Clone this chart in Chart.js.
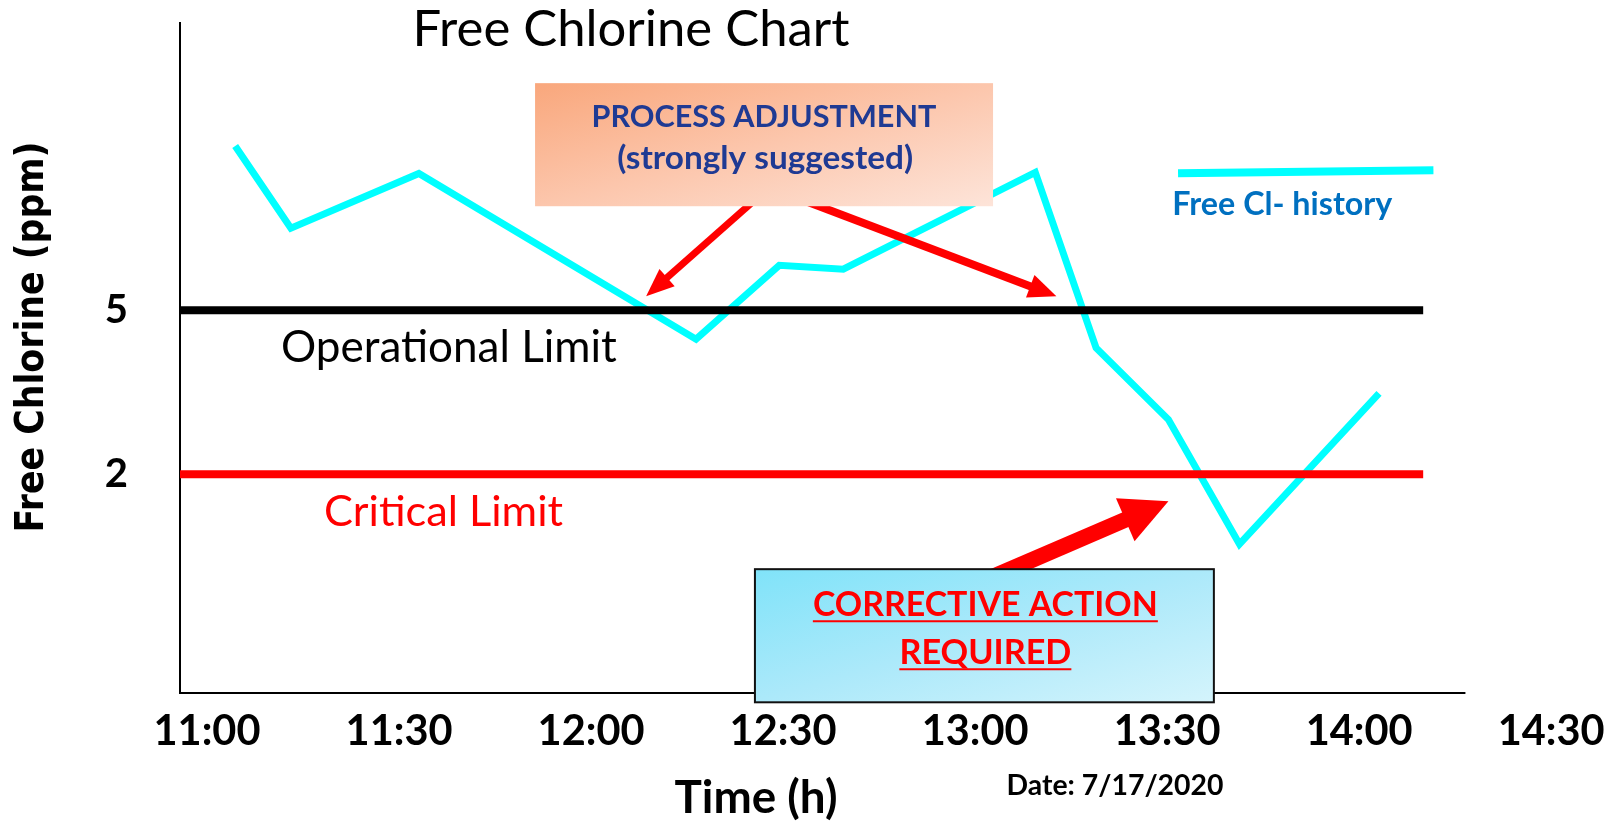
<!DOCTYPE html>
<html><head><meta charset="utf-8">
<script src="https://cdn.jsdelivr.net/npm/chart.js@4.4.1/dist/chart.umd.min.js"></script>
<style>html,body{margin:0;padding:0;background:#fff;overflow:hidden}canvas{display:block}</style>
</head><body>
<canvas id="c" width="1614" height="822"></canvas>
<script>
// ---- data (minutes after 11:00, ppm) ----
const timeMinutes   = [4.4, 13.1, 33.1, 76.4, 89.4, 99.4, 129.4, 138.9, 150.2, 161.3, 183.1];
const freeChlorine  = [8.0, 6.5, 7.5, 4.47, 5.82, 5.75, 7.52, 4.31, 3.0, 0.72, 3.48];
const operationalLimit = 5;
const criticalLimit = 2;
const limitSpan = [-4.22, 190];
const xTickValues = [0, 30, 60, 90, 120, 150, 180, 210];
const xTickLabels = ['11:00', '11:30', '12:00', '12:30', '13:00', '13:30', '14:00', '14:30'];
const yTickValues = [2, 5];
const yTickLabels = ['2', '5'];
const xRange = [-4.22, 212];
const yRange = [-2, 10.25];
const xAxisEnd = 196.6;

// annotations in data coordinates (minutes, ppm)
const arrows = [
  {from: [86.4, 7.10], to: [68.6, 5.256], w: 7, hl: 28, hw: 23},
  {from: [91.1, 7.10], to: [132.7, 5.256], w: 8, hl: 28, hw: 24},
  {from: [122.3, 0.10], to: [150.2, 1.507], w: 16, hl: 47, hw: 47}
];

const L = 'Lato, "Open Sans", sans-serif';

function fitSize(ctx, s, weight, family, width) {
  ctx.font = weight + ' 100px ' + family;
  return 100 * width / ctx.measureText(s).width;
}
function txt(ctx, s, x, y, o) {
  const weight = o.weight || 'normal', family = o.family || L;
  const fs = o.width ? fitSize(ctx, s, weight, family, o.width) : o.size;
  ctx.font = weight + ' ' + fs + 'px ' + family;
  ctx.fillStyle = o.color || '#000';
  ctx.textAlign = o.align || 'center';
  ctx.textBaseline = o.baseline || 'alphabetic';
  ctx.fillText(s, x, y);
  return fs;
}
function drawArrow(ctx, x1, y1, x2, y2, w, hl, hw, color) {
  const dx = x2 - x1, dy = y2 - y1, len = Math.hypot(dx, dy);
  const ux = dx / len, uy = dy / len, px = -uy, py = ux;
  const bx = x2 - ux * hl, by = y2 - uy * hl;
  ctx.save();
  ctx.strokeStyle = color; ctx.fillStyle = color; ctx.lineWidth = w; ctx.lineCap = 'butt';
  ctx.beginPath(); ctx.moveTo(x1, y1); ctx.lineTo(bx + ux * 2, by + uy * 2); ctx.stroke();
  ctx.beginPath(); ctx.moveTo(x2, y2);
  ctx.lineTo(bx + px * hw / 2, by + py * hw / 2);
  ctx.lineTo(bx - px * hw / 2, by - py * hw / 2);
  ctx.closePath(); ctx.fill();
  ctx.restore();
}
// gradient scaled with the shape (iso-lines parallel to the anti-diagonal)
function gradBox(ctx, x0, y0, x1, y1, stops) {
  ctx.save();
  ctx.translate(x0, y0); ctx.scale(x1 - x0, y1 - y0);
  const g = ctx.createLinearGradient(0, 0, 1, 1);
  stops.forEach(([o, c]) => g.addColorStop(o, c));
  ctx.fillStyle = g; ctx.fillRect(0, 0, 1, 1);
  ctx.restore();
}

const decor = {
  id: 'decor',
  beforeDatasetsDraw(chart) {
    const ctx = chart.ctx, xs = chart.scales.x, ys = chart.scales.y;
    ctx.save();
    ctx.strokeStyle = '#000'; ctx.lineWidth = 2;
    ctx.beginPath();
    const yb = ys.getPixelForValue(yRange[0]);
    ctx.moveTo(chart.chartArea.left - 1, yb); ctx.lineTo(xs.getPixelForValue(xAxisEnd), yb);
    ctx.stroke();
    ctx.restore();
  },
  afterDatasetsDraw(chart) {
    const ctx = chart.ctx, xs = chart.scales.x, ys = chart.scales.y;
    const X = v => xs.getPixelForValue(v), Y = v => ys.getPixelForValue(v);
    ctx.save();
    // arrows
    arrows.forEach(a => drawArrow(ctx, X(a.from[0]), Y(a.from[1]), X(a.to[0]), Y(a.to[1]), a.w, a.hl, a.hw, '#ff0000'));
    // orange box
    let x0 = X(51.25), x1 = X(122.8), y0 = Y(9.15), y1 = Y(6.90);
    gradBox(ctx, x0, y0, x1, y1, [[0, '#f9a77c'], [0.5, '#fcc6ac'], [1, '#fde4d9']]);
    txt(ctx, 'PROCESS ADJUSTMENT', X(87.0), Y(8.346), {weight: 'bold', width: 345, color: '#1f3a93'});
    txt(ctx, '(strongly suggested)', X(87.2), Y(7.578), {weight: 'bold', width: 296, color: '#1f3a93'});
    // cyan box
    x0 = X(85.6); x1 = X(157.3); y0 = Y(0.264); y1 = Y(-2.17);
    gradBox(ctx, x0, y0, x1, y1, [[0, '#80e3f9'], [0.5, '#ace9fa'], [1, '#d4f4fc']]);
    ctx.strokeStyle = '#111'; ctx.lineWidth = 2; ctx.strokeRect(x0, y0, x1 - x0, y1 - y0);
    const cx = X(121.6);
    [['CORRECTIVE ACTION', -0.595, 345], ['REQUIRED', -1.473, 172]].forEach(([s, v, w]) => {
      txt(ctx, s, cx, Y(v), {weight: 'bold', width: w, color: '#ff0000'});
      ctx.strokeStyle = '#ff0000'; ctx.lineWidth = 2;
      ctx.beginPath(); ctx.moveTo(cx - w / 2, Y(v) + 5); ctx.lineTo(cx + w / 2, Y(v) + 5); ctx.stroke();
    });
    // limit labels
    txt(ctx, 'Operational Limit', X(11.56), Y(4.049), {width: 336, align: 'left'});
    txt(ctx, 'Critical Limit', X(18.28), Y(1.05), {width: 239, align: 'left', color: '#ff0000'});
    // legend
    ctx.strokeStyle = '#00ffff'; ctx.lineWidth = 8; ctx.lineCap = 'butt';
    ctx.beginPath(); ctx.moveTo(X(151.7), Y(7.505)); ctx.lineTo(X(191.6), Y(7.56)); ctx.stroke();
    txt(ctx, 'Free Cl- history', X(168.0), Y(6.737), {weight: 'bold', width: 220, color: '#0070c0'});
    // titles
    txt(ctx, 'Free Chlorine Chart', 631, 46, {width: 437});
    txt(ctx, 'Time (h)', 756, 813, {weight: 'bold', width: 163});
    txt(ctx, 'Date: 7/17/2020', 1115, 795, {weight: 'bold', width: 217});
    ctx.save();
    ctx.translate(33, 337); ctx.rotate(-Math.PI / 2);
    txt(ctx, 'Free Chlorine (ppm)', 0, 0, {weight: 'bold', family: '"DejaVu Sans Condensed", "DejaVu Sans", sans-serif', width: 391, baseline: 'middle'});
    ctx.restore();
    ctx.restore();
  }
};

const cnv = document.getElementById('c');
const mctx = cnv.getContext('2d');
const tickSize = fitSize(mctx, '11:00', 'bold', L, 107);

Chart.defaults.font.family = L;
new Chart(cnv, {
  type: 'line',
  data: {
    datasets: [
      {label: 'Operational Limit', data: limitSpan.map(t => ({x: t, y: operationalLimit})), borderColor: '#000', borderWidth: 8, pointRadius: 0, borderCapStyle: 'butt'},
      {label: 'Critical Limit', data: limitSpan.map(t => ({x: t, y: criticalLimit})), borderColor: '#ff0000', borderWidth: 8, pointRadius: 0, borderCapStyle: 'butt'},
      {label: 'Free Cl- history', data: timeMinutes.map((t, i) => ({x: t, y: freeChlorine[i]})), borderColor: '#00ffff', borderWidth: 7, pointRadius: 0, tension: 0, borderJoinStyle: 'miter', borderCapStyle: 'butt'}
    ]
  },
  options: {
    responsive: false, animation: false, devicePixelRatio: 1,
    layout: {padding: {left: 0, top: 23, right: 50, bottom: 0}},
    plugins: {legend: {display: false}, title: {display: false}, tooltip: {enabled: false}},
    scales: {
      x: {
        type: 'linear', min: xRange[0], max: xRange[1],
        grid: {display: false, drawTicks: false}, border: {display: false},
        afterBuildTicks: s => { s.ticks = xTickValues.map(v => ({value: v})); },
        afterFit: s => { s.height = 129; s.paddingLeft = 0; s.paddingRight = 0; },
        ticks: {autoSkip: false, maxRotation: 0, padding: 14, color: '#000',
          font: {weight: 'bold', size: tickSize},
          callback: v => xTickLabels[xTickValues.indexOf(v)]}
      },
      y: {
        min: yRange[0], max: yRange[1],
        grid: {display: false, drawTicks: false}, border: {display: true, color: '#000', width: 2},
        afterBuildTicks: s => { s.ticks = yTickValues.map(v => ({value: v})); },
        afterFit: s => { s.width = 180; s.paddingTop = 0; s.paddingBottom = 0; },
        ticks: {padding: 52, color: '#000', font: {weight: 'bold', size: 40},
          callback: v => yTickLabels[yTickValues.indexOf(v)]}
      }
    }
  },
  plugins: [decor]
});
</script>
</body></html>
